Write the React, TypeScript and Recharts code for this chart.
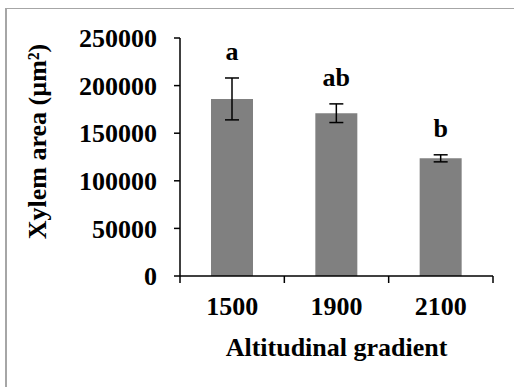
import React from 'react';
import { BarChart, Bar, XAxis, YAxis, ErrorBar, LabelList } from 'recharts';

const categories = ['1500', '1900', '2100'];
const means = [186000, 171000, 123600];
const errors = [22000, 9800, 3700];
const letters = ['a', 'ab', 'b'];
const yTicks = [0, 50000, 100000, 150000, 200000, 250000];

const data = categories.map((c, i) => ({
  altitude: c,
  value: means[i],
  err: errors[i],
  letter: letters[i],
}));

const FONT = '"Liberation Serif", "Times New Roman", serif';
const W = 514;
const H = 387;
const margin = { top: 38, right: 21, left: 0, bottom: 0 };
const Y_W = 180;
const X_H = 111;

const XTick = (props: any) => {
  const { x, y, payload, index } = props;
  const bw = (W - margin.right - Y_W) / categories.length;
  return (
    <g>
      <line x1={x - bw / 2} y1={y} x2={x - bw / 2} y2={y + 7} stroke="#000" strokeWidth={1.5} />
      {index === categories.length - 1 && (
        <line x1={x + bw / 2} y1={y} x2={x + bw / 2} y2={y + 7} stroke="#000" strokeWidth={1.5} />
      )}
      <text x={x} y={y + 39} textAnchor="middle" fontFamily={FONT} fontWeight="bold" fontSize={26} fill="#000">
        {payload.value}
      </text>
    </g>
  );
};

const LetterLabel = (props: any) => {
  const { x, y, width, height, value, index } = props;
  const row = data[index];
  const pxPerUnit = height / row.value;
  const errTop = y - row.err * pxPerUnit;
  return (
    <text x={x + width / 2} y={errTop - 18} textAnchor="middle" fontFamily={FONT} fontWeight="bold" fontSize={26} fill="#000">
      {value}
    </text>
  );
};

const XTitle = (props: any) => {
  const { viewBox } = props;
  return (
    <text x={viewBox.x + viewBox.width / 2} y={356} textAnchor="middle" fontFamily={FONT} fontWeight="bold" fontSize={26} fill="#000">
      Altitudinal gradient
    </text>
  );
};

const YTitle = () => (
  <text
    x={0}
    y={0}
    transform="translate(46,141.5) rotate(-90)"
    textAnchor="middle"
    fontFamily={FONT}
    fontWeight="bold"
    fontSize={26}
    fill="#000"
  >
    Xylem area (µm²)
  </text>
);

export default function App() {
  return (
    <div style={{ position: 'fixed', left: 0, top: 0, width: W, height: H, overflow: 'hidden', background: '#fff' }}>
      <div
        style={{
          position: 'absolute',
          left: 5,
          top: 8,
          width: 700,
          height: 700,
          borderTop: '1px solid #a6a6a6',
          borderLeft: '2px solid #a6a6a6',
        }}
      />
      <div style={{ position: 'absolute', left: 0, top: 0 }}>
        <BarChart width={W} height={H} data={data} margin={margin}>
          <XAxis
            dataKey="altitude"
            height={X_H}
            tickLine={false}
            tickSize={0}
            tickMargin={0}
            axisLine={{ stroke: '#000', strokeWidth: 1.5 }}
            tick={<XTick />}
            interval={0}
            label={<XTitle />}
          />
          <YAxis
            width={Y_W}
            domain={[0, 250000]}
            ticks={yTicks}
            interval={0}
            tickSize={6}
            tickMargin={17}
            axisLine={{ stroke: '#000', strokeWidth: 1.5 }}
            tickLine={{ stroke: '#000', strokeWidth: 1.5 }}
            tick={{ fontFamily: FONT, fontWeight: 'bold', fontSize: 26, fill: '#000' }}
            label={<YTitle />}
          />
          <Bar dataKey="value" fill="#808080" barSize={42} isAnimationActive={false}>
            <ErrorBar dataKey="err" width={7} stroke="#000" strokeWidth={1.5} direction="y" />
            <LabelList dataKey="letter" content={<LetterLabel />} />
          </Bar>
        </BarChart>
      </div>
    </div>
  );
}
